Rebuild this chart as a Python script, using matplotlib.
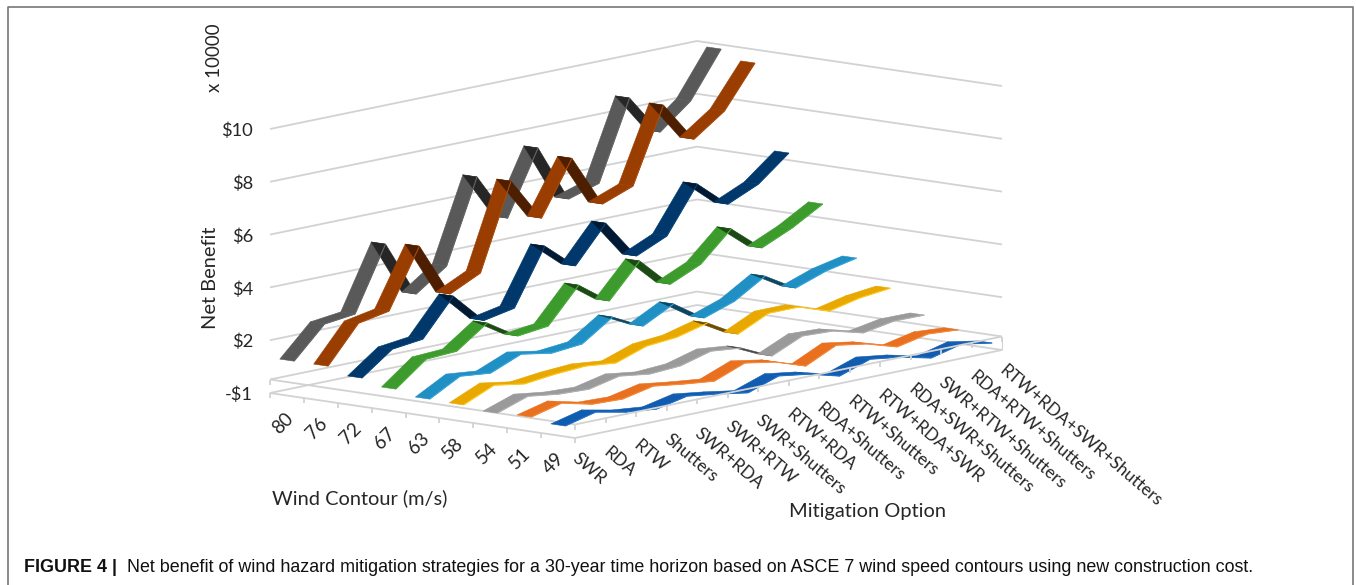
import matplotlib
matplotlib.use("Agg")
import matplotlib.pyplot as plt
from matplotlib.collections import PolyCollection, LineCollection
import numpy as np

# ---- data ----
mitigation = ["SWR", "RDA", "RTW", "Shutters", "SWR+RDA", "SWR+RTW", "SWR+Shutters", "RTW+RDA",
              "RDA+Shutters", "RTW+Shutters", "RTW+RDA+SWR", "RDA+SWR+Shutters",
              "SWR+RTW+Shutters", "RDA+RTW+Shutters", "RTW+RDA+SWR+Shutters"]
wind = ["80", "76", "72", "67", "63", "58", "54", "51", "49"]
tick_levels = [0, 2, 4, 6, 8, 10]
tick_labels = ["-$1", "$2", "$4", "$6", "$8", "$10"]
w80 = [1.34, 2.51, 2.65, 5.06, 2.93, 3.75, 6.89, 5.09, 7.51, 5.34, 5.70, 8.69, 7.16, 8.10, 9.83]
w76 = [1.34, 2.73, 2.95, 5.17, 3.12, 3.68, 6.92, 5.28, 7.31, 5.34, 5.78, 8.61, 7.08, 7.91, 9.49]
w72 = [1.08, 1.94, 2.08, 3.47, 2.31, 2.54, 4.65, 3.66, 5.04, 3.56, 4.08, 5.81, 4.81, 5.33, 6.27]
w67 = [0.85, 1.75, 1.81, 2.64, 1.91, 2.05, 3.36, 2.52, 3.80, 2.68, 3.20, 4.30, 3.34, 3.86, 4.53]
w63 = [0.66, 1.29, 1.17, 1.65, 1.45, 1.56, 2.34, 1.76, 2.36, 1.59, 1.99, 2.70, 2.01, 2.42, 2.67]
w58 = [0.63, 1.14, 0.95, 1.08, 1.15, 1.03, 1.43, 1.53, 1.83, 1.17, 1.72, 1.72, 1.33, 1.59, 1.72]
w54 = [0.51, 0.91, 0.75, 0.70, 0.96, 0.80, 0.87, 1.19, 1.07, 0.53, 1.05, 1.00, 0.69, 0.90, 0.89]
w51 = [0.55, 0.84, 0.56, 0.52, 0.77, 0.61, 0.48, 0.93, 0.73, 0.34, 0.89, 0.70, 0.35, 0.60, 0.52]
w49 = [0.40, 0.69, 0.45, 0.33, 0.58, 0.42, 0.23, 0.63, 0.46, 0.15, 0.55, 0.39, 0.12, 0.41, 0.21]
series = [w80, w76, w72, w67, w63, w58, w54, w51, w49]
top_colors = ["#595959", "#993d00", "#00386b", "#3d9b2e", "#1f8fc4", "#e8a800", "#9a9a9a", "#e8701f", "#0f5cb0"]
under_colors = ["#262626", "#4d1e00", "#001a33", "#1c4a14", "#0c4660", "#6b4e00", "#484848", "#70350e", "#072c55"]
edge_colors = ["#666666", "#ad4a0c", "#0a457c", "#4cae3a", "#35a6da", "#ffc91a", "#b0b0b0", "#f58a3c", "#2272c8"]

# ---- oblique chart geometry (pixels of the figure) ----
W, H = 1356, 585
FRONT = np.array([575.0, 438.0])
RIGHT_VEC = np.array([427.0, -88.0])
LEFT_VEC = np.array([-305.0, -45.0])
PX_PER_UNIT = 26.4
FLOOR_LIFT = 13.5
RIBBON_DEPTH = 0.42
GRID = "#d2d2d2"
TEXT = "#262626"
FONT = "Lato"


def project(u, w, v=0.0):
    """Floor position u (mitigation, 0..1), w (wind, 0..1), height v -> pixel."""
    p = FRONT + u * RIGHT_VEC + w * LEFT_VEC
    return np.array([p[0], p[1] - v * PX_PER_UNIT])


fig = plt.figure(figsize=(W / 100, H / 100), dpi=100)
ax = fig.add_axes([0, 0, 1, 1])
ax.set_xlim(0, W)
ax.set_ylim(H, 0)
ax.axis("off")


def seg(a, b, z=1, color=GRID, lw=1.3):
    ax.plot([a[0], b[0]], [a[1], b[1]], color=color, lw=lw, zorder=z, solid_capstyle="butt")


# frame
ax.plot([8, 8, 1353, 1353], [H, 6.5, 6.5, H], color="#777777", lw=1.2, zorder=0)

# wall gridlines
for lev in tick_levels:
    seg(project(0, 1, lev), project(1, 1, lev))
    seg(project(1, 0, lev), project(1, 1, lev))
# floor upper outline (back edges)
lift = np.array([0, -FLOOR_LIFT])
seg(project(0, 1) + lift, project(1, 1) + lift)
seg(project(1, 0) + lift, project(1, 1) + lift)
# front floor edges, left part
seg(project(0, 0), project(0, 1))
seg(project(0, 0) + lift, project(0, 1) + lift)
for k in range(len(wind) + 1):
    p = project(0, k / len(wind))
    seg(p, p + [0, 5])
p = project(0, 1) + lift
seg(p, p + [0, 5])

# ribbons, back to front
n_w, n_m = len(wind), len(mitigation)
z = 2
for k, vals in enumerate(series):
    front_w = 1 - (k + 0.5) / n_w
    w0, w1 = front_w - RIBBON_DEPTH / n_w / 2, front_w + RIBBON_DEPTH / n_w / 2
    polys, cols, rims = [], [], []
    for i in range(n_m - 1):
        u0, u1 = i / (n_m - 1), (i + 1) / (n_m - 1)
        a, b = project(u0, w0, vals[i]), project(u1, w0, vals[i + 1])
        c, d = project(u1, w1, vals[i + 1]), project(u0, w1, vals[i])
        e1, e2 = b - a, d - a
        cross = e1[0] * e2[1] - e1[1] * e2[0]
        polys.append([a, b, c, d])
        if cross < 0:
            cols.append(top_colors[k])
            rims.append([a, b])  # lighter front rim only on the upper face
        else:
            cols.append(under_colors[k])
    ax.add_collection(PolyCollection(polys, facecolors=cols, edgecolors=cols, linewidths=0.4, zorder=z))
    ax.add_collection(LineCollection(rims, colors=edge_colors[k], linewidths=0.8, zorder=z + 0.5))
    z += 1

# floor front-right edges over the ribbons
zf = z + 1
seg(project(0, 0), project(1, 0), zf)
seg(project(0, 0) + lift, project(1, 0) + lift, zf)
for i in range(n_m):
    p = project(i / (n_m - 1), 0) + lift
    seg(p, p + [0, 5], zf)
seg(project(1, 0), project(1, 0) + lift, zf, lw=0.8)

# value axis labels
for lev, lab in zip(tick_levels, tick_labels):
    p = project(0, 1, lev)
    ax.text(p[0] - 17, p[1] + 2, lab, ha="right", va="center", fontsize=13.2, color=TEXT, family=FONT)
# wind labels
for k, lab in enumerate(wind):
    p = project(0, 1 - (k + 0.5) / n_w)
    ax.text(p[0] - 4, p[1] + 28, lab, ha="center", va="center", rotation=45, fontsize=13.5, color=TEXT, family=FONT)
# mitigation labels
for i, lab in enumerate(mitigation):
    p = project(i / (n_m - 1), 0)
    ax.text(p[0] + 5, p[1] + 12, lab, ha="left", va="top", rotation=-40.5, rotation_mode="anchor",
            fontsize=12.5, color=TEXT, family=FONT)

ax.text(272, 498, "Wind Contour (m/s)", ha="left", va="center", fontsize=14.4, color=TEXT, family=FONT)
ax.text(789, 511, "Mitigation Option", ha="left", va="center", fontsize=14.4, color=TEXT, family=FONT)
ax.text(210, 278, "Net Benefit", ha="center", va="center", rotation=90, fontsize=14.4, color=TEXT, family=FONT)
ax.text(214, 58, "x 10000", ha="center", va="center", rotation=90, fontsize=13.5, color=TEXT, family=FONT)

# caption
ax.text(24, 567, "FIGURE 4 |", ha="left", va="center", fontsize=12.85, fontweight="bold",
        color="#111111", family="Liberation Sans")
ax.text(127, 567, "Net benefit of wind hazard mitigation strategies for a 30-year time horizon based on ASCE 7 wind speed contours using new construction cost.",
        ha="left", va="center", fontsize=12.85, color="#111111", family="Liberation Sans")

fig.savefig("out.png", dpi=100)
